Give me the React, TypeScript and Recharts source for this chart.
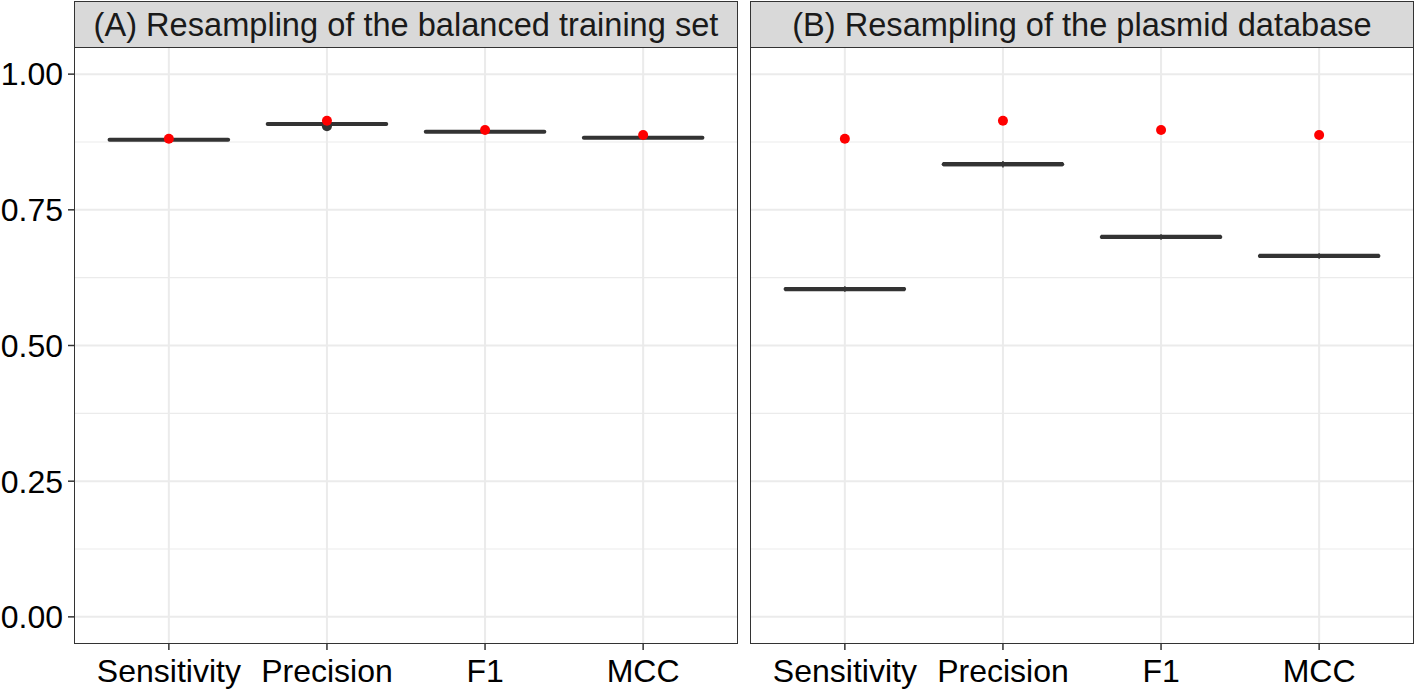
import React from 'react';
import {
  ComposedChart,
  XAxis,
  YAxis,
  CartesianGrid,
  ReferenceArea,
  ReferenceLine,
  Scatter
} from 'recharts';

const categories = ['Sensitivity', 'Precision', 'F1', 'MCC'];

// red points: performance on the original data
const originalValues = [0.881, 0.914, 0.897, 0.888];

// (A) resampling of the balanced training set
const balancedMedian = [0.879, 0.908, 0.894, 0.883];
const balancedQ1 = [0.878, 0.907, 0.893, 0.882];
const balancedQ3 = [0.880, 0.909, 0.895, 0.884];
const balancedLower = [0.877, 0.906, 0.892, 0.881];
const balancedUpper = [0.881, 0.910, 0.896, 0.885];
const balancedOutliers = [{ cat: 'Precision', value: 0.904 }];

// (B) resampling of the plasmid database
const plasmidMedian = [0.604, 0.834, 0.700, 0.665];
const plasmidQ1 = [0.6015, 0.8315, 0.6975, 0.6625];
const plasmidQ3 = [0.6065, 0.8365, 0.7025, 0.6675];
const plasmidLower = [0.599, 0.828, 0.695, 0.660];
const plasmidUpper = [0.609, 0.840, 0.705, 0.670];

const yTicks = [0, 0.25, 0.5, 0.75, 1];
const yMinor = [0.125, 0.375, 0.625, 0.875];

const FONT = '"Liberation Sans", Arial, Helvetica, sans-serif';
const Y_DOMAIN: [number, number] = [-0.05, 1.05];
const X_DOMAIN: [number, number] = [0.4, 4.6];
const HALF_BOX = 0.375;

interface BoxSet {
  median: number[];
  q1: number[];
  q3: number[];
  lower: number[];
  upper: number[];
  outliers: { cat: string; value: number }[];
}

const RedDot = (props: any) => (
  <circle cx={props.cx} cy={props.cy} r={5} fill="#ff0000" />
);
const DarkDot = (props: any) => (
  <circle cx={props.cx} cy={props.cy} r={5} fill="#333333" />
);

interface PanelProps {
  title: string;
  boxes: BoxSet;
  left: number;
  width: number;
  marginRight: number;
  showYAxis: boolean;
}

const Panel: React.FC<PanelProps> = ({ title, boxes, left, width, marginRight, showYAxis }) => {
  const yWidth = showYAxis ? 74 : 0;
  const plotLeft = left + yWidth;
  const plotWidth = width - yWidth - marginRight;
  const top = 47;
  const plotHeight = 691 - 47 - 47;

  const redPoints = categories.map((c, i) => ({ x: i + 1, y: originalValues[i] }));
  const outlierPoints = boxes.outliers.map(o => ({ x: categories.indexOf(o.cat) + 1, y: o.value }));

  return (
    <>
      <div style={{ position: 'absolute', left, top: 0 }}>
        <ComposedChart
          width={width}
          height={691}
          margin={{ top, right: marginRight, left: 0, bottom: 0 }}
        >
          <CartesianGrid
            horizontalValues={yMinor}
            vertical={false}
            stroke="#ebebeb"
            strokeWidth={1.2}
          />
          <CartesianGrid
            horizontalValues={yTicks}
            verticalValues={[1, 2, 3, 4]}
            stroke="#ebebeb"
            strokeWidth={2}
          />
          <XAxis
            type="number"
            dataKey="x"
            domain={X_DOMAIN}
            ticks={[1, 2, 3, 4]}
            interval={0}
            allowDataOverflow
            tickFormatter={(v: number) => categories[v - 1]}
            height={47}
            axisLine={false}
            tickSize={6}
            tickMargin={9}
            tickLine={{ stroke: '#333333', strokeWidth: 1.5 }}
            tick={{ fontSize: 32, fill: '#000000', fontFamily: FONT }}
          />
          <YAxis
            type="number"
            dataKey="y"
            domain={Y_DOMAIN}
            ticks={yTicks}
            allowDataOverflow
            hide={!showYAxis}
            width={yWidth}
            tickFormatter={(v: number) => v.toFixed(2)}
            axisLine={false}
            tickSize={6}
            tickMargin={5}
            tickLine={{ stroke: '#333333', strokeWidth: 1.5 }}
            tick={{ fontSize: 32, fill: '#000000', fontFamily: FONT }}
          />
          {categories.map((c, i) => (
            <ReferenceLine
              key={'wu' + c}
              segment={[{ x: i + 1, y: boxes.q3[i] }, { x: i + 1, y: boxes.upper[i] }]}
              stroke="#333333"
              strokeWidth={1.5}
            />
          ))}
          {categories.map((c, i) => (
            <ReferenceLine
              key={'wl' + c}
              segment={[{ x: i + 1, y: boxes.lower[i] }, { x: i + 1, y: boxes.q1[i] }]}
              stroke="#333333"
              strokeWidth={1.5}
            />
          ))}
          {categories.map((c, i) => (
            <ReferenceArea
              key={'box' + c}
              x1={i + 1 - HALF_BOX}
              x2={i + 1 + HALF_BOX}
              y1={boxes.q1[i]}
              y2={boxes.q3[i]}
              fill="#ffffff"
              fillOpacity={1}
              stroke="#333333"
              strokeWidth={1.5}
            />
          ))}
          {categories.map((c, i) => (
            <ReferenceLine
              key={'med' + c}
              segment={[
                { x: i + 1 - HALF_BOX, y: boxes.median[i] },
                { x: i + 1 + HALF_BOX, y: boxes.median[i] }
              ]}
              stroke="#333333"
              strokeWidth={4}
              strokeLinecap="round"
            />
          ))}
          {outlierPoints.length > 0 && (
            <Scatter data={outlierPoints} dataKey="y" shape={DarkDot} isAnimationActive={false} />
          )}
          <Scatter data={redPoints} dataKey="y" shape={RedDot} isAnimationActive={false} />
        </ComposedChart>
      </div>
      {/* panel border */}
      <div
        style={{
          position: 'absolute',
          left: plotLeft,
          top,
          width: plotWidth,
          height: plotHeight,
          border: '1.5px solid #333333',
          boxSizing: 'border-box',
          pointerEvents: 'none'
        }}
      />
      {/* facet strip */}
      <div
        style={{
          position: 'absolute',
          left: plotLeft,
          top: 1,
          width: plotWidth,
          height: top - 1,
          background: '#d9d9d9',
          border: '1.5px solid #333333',
          borderBottom: 'none',
          boxSizing: 'border-box',
          display: 'flex',
          alignItems: 'center',
          justifyContent: 'center',
          fontFamily: FONT,
          fontSize: 32.6,
          color: '#1a1a1a',
          whiteSpace: 'nowrap'
        }}
      >
        {title}
      </div>
    </>
  );
};

const balancedBoxes: BoxSet = {
  median: balancedMedian,
  q1: balancedQ1,
  q3: balancedQ3,
  lower: balancedLower,
  upper: balancedUpper,
  outliers: balancedOutliers
};

const plasmidBoxes: BoxSet = {
  median: plasmidMedian,
  q1: plasmidQ1,
  q3: plasmidQ3,
  lower: plasmidLower,
  upper: plasmidUpper,
  outliers: []
};

export default function App() {
  return (
    <div
      style={{
        position: 'absolute',
        left: 0,
        top: 0,
        width: 1416,
        height: 691,
        background: '#ffffff',
        overflow: 'hidden'
      }}
    >
      <Panel
        title="(A) Resampling of the balanced training set"
        boxes={balancedBoxes}
        left={0}
        width={741}
        marginRight={3}
        showYAxis
      />
      <Panel
        title="(B) Resampling of the plasmid database"
        boxes={plasmidBoxes}
        left={750}
        width={666}
        marginRight={2}
        showYAxis={false}
      />
    </div>
  );
}
